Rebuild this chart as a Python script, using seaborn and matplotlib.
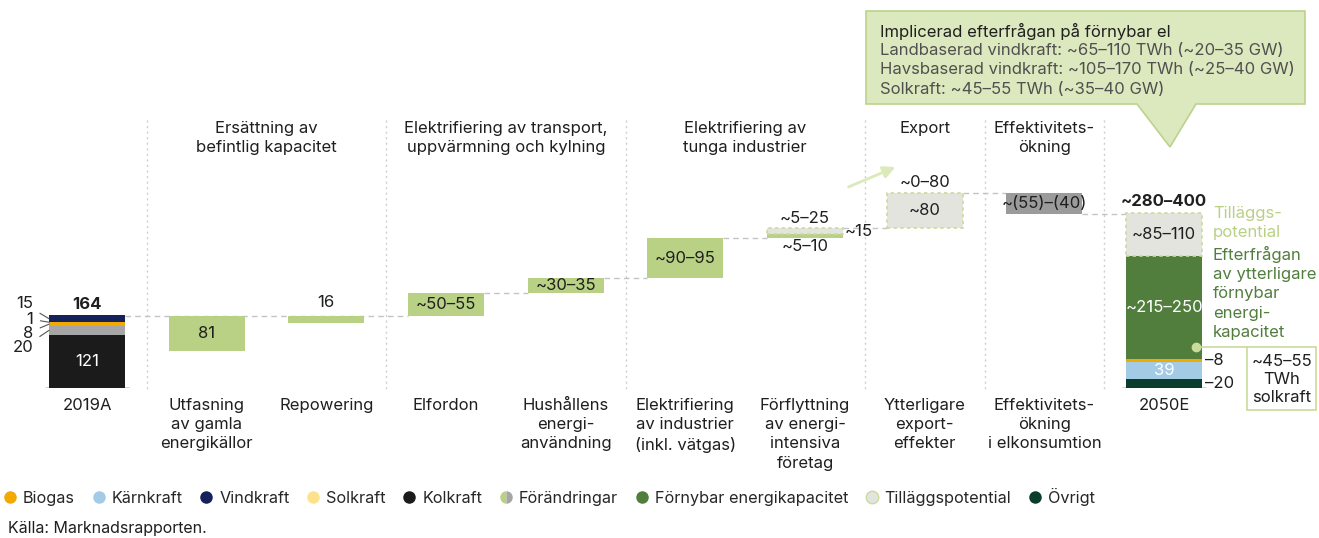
import matplotlib.pyplot as plt
import seaborn as sns
from matplotlib.lines import Line2D
from matplotlib.patches import Polygon, Rectangle
from matplotlib.transforms import Affine2D

# ==========================================
# Data (TWh) – intervall ritas med mittpunkten
# ==========================================
kategorier = ["2019A", "Utfasning\nav gamla\nenergikällor", "Repowering", "Elfordon",
              "Hushållens\nenergi-\nanvändning", "Elektrifiering\nav industrier\n(inkl. vätgas)",
              "Förflyttning\nav energi-\nintensiva\nföretag", "Ytterligare\nexport-\neffekter",
              "Effektivitets-\nökning\ni elkonsumtion", "2050E"]

grupp_namn = ["Ersättning av\nbefintlig kapacitet",
              "Elektrifiering av transport,\nuppvärmning och kylning",
              "Elektrifiering av\ntunga industrier", "Export", "Effektivitets-\nökning"]
grupp_granser = [0.5, 2.5, 4.5, 6.5, 7.5, 8.5]

# 2019A, nerifrån och upp
mix_2019_namn = ["Kolkraft", "Grå", "Biogas", "Solkraft", "Vindkraft"]
mix_2019 = [121, 20, 8, 1, 15]
mix_2019_text = ["121", "20", "8", "1", "15"]
total_2019 = 164

# förändringar
steg = [-81, -16, 52.5, 32.5, 92.5, 7.5]
steg_text = ["81", "16", "~50–55", "~30–35", "~90–95", "~5–10"]
ersattning = [True, True, False, False, False, False]   # nivån flyttas inte

flytt_potential = 15
export = 80
effektivitet = -47.5

# 2050E, nerifrån och upp
mix_2050_namn = ["Övrigt", "Kärnkraft", "Biogas", "Förnybar energikapacitet", "Tilläggspotential"]
mix_2050 = [20, 39, 8, 232.5, 97.5]

farg = {"Kolkraft": "#1b1b1b", "Grå": "#a6a6a6", "Biogas": "#f2a900", "Solkraft": "#fde28e",
        "Vindkraft": "#15215b", "Kärnkraft": "#a3cbe5", "Övrigt": "#0b3d2e",
        "Förnybar energikapacitet": "#517d3d", "Tilläggspotential": "#e4e4df",
        "Förändringar": "#b9d184", "Effektivitet": "#9b9b9b"}
LJUSGRON = "#c9dc9c"
TEXT = "#1f1f1f"

# ==========================================
# Figur
# ==========================================
sns.set_theme(style="white")
plt.rcParams['font.family'] = ['Inter', 'DejaVu Sans']
plt.rcParams['font.size'] = 12

fig = plt.figure(figsize=(13.19, 5.38), dpi=100)
PX_PER_TWH = 0.44
ax = fig.add_axes([0, 150 / 538, 1, 388 / 538])
PIX = Affine2D().scale(0.01, -0.01).translate(0, 5.38) + fig.dpi_scale_trans  # pixel (uppifrån)
W = 0.635
LS = 1.35


def yv(p):
    return (388 - p) / PX_PER_TWH


def staple(x, y, bottom, **kw):
    kw.setdefault("linewidth", 0)
    sns.barplot(x=x, y=y, order=kategorier, bottom=bottom, width=W, errorbar=None,
                saturation=1, ax=ax, zorder=3, **kw)


streckad = dict(color=farg["Tilläggspotential"], edgecolor=LJUSGRON, linewidth=1.2,
                linestyle=(0, (2, 2)))

# 2019A
botten = 0
for namn, v in zip(mix_2019_namn, mix_2019):
    staple([kategorier[0]], [v], [botten], color=farg[namn])
    botten += v

# vattenfall
niva = total_2019
bott, hojd, kopplingar = [], [], [(0, 3, total_2019)]
for i, (v, ers) in enumerate(zip(steg, ersattning)):
    if ers:
        bott.append(niva - abs(v))
        hojd.append(abs(v))
    else:
        bott.append(niva)
        hojd.append(v)
        niva += v
        if i + 2 < 7:
            kopplingar.append((i + 1, i + 2, niva))
staple(kategorier[1:7], hojd, bott, color=farg["Förändringar"])

pot_botten = [niva, niva + flytt_potential]
staple([kategorier[6], kategorier[7]], [flytt_potential, export], pot_botten, **streckad)
topp_export = pot_botten[1] + export
kopplingar.append((6, 7, pot_botten[1]))
kopplingar.append((7, 8, topp_export))
eff_botten = topp_export + effektivitet
staple([kategorier[8]], [-effektivitet], [eff_botten], color=farg["Effektivitet"])
kopplingar.append((8, 9, eff_botten))

botten = 0
mitt_2050 = []
for namn, v in zip(mix_2050_namn, mix_2050):
    if namn == "Tilläggspotential":
        staple([kategorier[9]], [v], [botten], **streckad)
    else:
        staple([kategorier[9]], [v], [botten], color=farg[namn])
    mitt_2050.append(botten + v / 2)
    botten += v
total_2050 = botten

ax.set_xlim(-87 / 119.67, (1319 - 87) / 119.67)
ax.set_ylim(0, 388 / PX_PER_TWH)
ax.axis('off')

# streckade kopplingslinjer
for a, b, y in kopplingar:
    ax.plot([a + W / 2, b - W / 2], [y, y], color="#c4c4c4", lw=1, dashes=(4, 3), zorder=1)
# baslinjer
for i in (0, 9):
    ax.plot([i - W / 2 - 0.03, i + W / 2 + 0.03], [0, 0], color="#222222", lw=1, zorder=4)
# avdelare
for g in grupp_granser:
    ax.plot([g, g], [yv(120), yv(392)], color="#cfcfcf", lw=1, dashes=(1.5, 2.5),
            zorder=0, clip_on=False)

# rubriker och kategorinamn
for namn, (a, b) in zip(grupp_namn, zip(grupp_granser[:-1], grupp_granser[1:])):
    ax.text((a + b) / 2, yv(121), namn, ha='center', va='top', color=TEXT, linespacing=LS)
for i, k in enumerate(kategorier):
    ax.text(i, yv(398), k, ha='center', va='top', color=TEXT, linespacing=LS,
            clip_on=False)

# etiketter 2019A
ax.annotate(str(total_2019), (0, total_2019), xytext=(0, 3), textcoords='offset points',
            ha='center', va='bottom', fontweight='bold', color=TEXT)
ax.text(0, mix_2019[0] / 2, mix_2019_text[0], ha='center', va='center', color='white',
        zorder=5)
mitt_2019 = [sum(mix_2019[:i]) + v / 2 for i, v in enumerate(mix_2019)]
for txt, m, p in zip(mix_2019_text[1:][::-1], mitt_2019[1:][::-1], [304, 319, 333, 348]):
    ax.annotate(txt, (-W / 2, m), xytext=(33, p), textcoords=PIX, ha='right', va='center',
                color=TEXT, arrowprops=dict(arrowstyle='-', color='#555555', lw=0.8,
                                            shrinkA=3, shrinkB=0))

# etiketter förändringar
for i, (b, h, t) in enumerate(zip(bott, hojd, steg_text)):
    x = i + 1
    if t == "16":
        ax.annotate(t, (x, b + h), xytext=(0, 4), textcoords='offset points',
                    ha='center', va='bottom', color=TEXT)
    elif t == "~5–10":
        ax.annotate(t, (x, b), xytext=(0, -1), textcoords='offset points',
                    ha='center', va='top', color=TEXT)
    else:
        ax.text(x, b + h / 2, t, ha='center', va='center', color=TEXT, zorder=5)
ax.annotate("~5–25", (6, pot_botten[0] + flytt_potential), xytext=(0, 1),
            textcoords='offset points', ha='center', va='bottom', color=TEXT)
ax.annotate(f"~{flytt_potential}", (6 + W / 2, pot_botten[0] + flytt_potential / 2),
            xytext=(1, 0), textcoords='offset points', ha='left', va='center', color=TEXT)
ax.text(7, pot_botten[1] + export / 2, f"~{export}", ha='center', va='center',
        color=TEXT, zorder=5)
ax.annotate(f"~0–{export}", (7, topp_export), xytext=(0, 2), textcoords='offset points',
            ha='center', va='bottom', color=TEXT)
ax.text(8, eff_botten - effektivitet / 2, "~(55)–(40)", ha='center', va='center',
        color=TEXT, zorder=5)

# etiketter 2050E
ax.annotate("~280–400", (9, total_2050), xytext=(0, 3), textcoords='offset points',
            ha='center', va='bottom', fontweight='bold', color=TEXT)
ax.text(9, mitt_2050[4], "~85–110", ha='center', va='center', color=TEXT, zorder=5)
ax.text(9, mitt_2050[3], "~215–250", ha='center', va='center', color='white', zorder=5)
ax.text(9, mitt_2050[1], "39", ha='center', va='center', color='white', zorder=5)
for idx, t in ((2, "–8"), (0, "–20")):
    ax.annotate(t, (9 + W / 2, mitt_2050[idx]), xytext=(2, 0), textcoords='offset points',
                ha='left', va='center', color=TEXT)

# sidotexter
ax.text(1213, 206, "Tilläggs-\npotential", transform=PIX, ha='left', va='top',
        color="#b9d184", linespacing=LS)
ax.text(1213, 246, "Efterfrågan\nav ytterligare\nförnybar\nenergi-\nkapacitet", transform=PIX,
        ha='left', va='top', color=farg["Förnybar energikapacitet"], linespacing=LS)
ax.plot([1196, 1247], [347, 347], transform=PIX, color=LJUSGRON, lw=1.2, clip_on=False,
        zorder=6)
ax.plot([1196], [347], transform=PIX, marker='o', ms=6, color=LJUSGRON, clip_on=False,
        zorder=7)
fig.patches.append(Rectangle((1247, 410), 69, -63, transform=PIX, facecolor='white',
                             edgecolor=LJUSGRON, lw=1.2))
fig.text(1282, 379, "~45–55\nTWh\nsolkraft", transform=PIX, ha='center', va='center',
         color=TEXT, linespacing=1.25)

# pil mot export
ax.annotate('', xy=(898, 166), xytext=(846, 188), xycoords=PIX, textcoords=PIX,
            arrowprops=dict(arrowstyle='-|>', color="#dce9ba", lw=2, mutation_scale=18))

# pratbubbla
bubbla = Polygon([(866, 11), (1305, 11), (1305, 104), (1196, 104), (1170, 147),
                  (1137, 104), (866, 104)], closed=True, transform=PIX,
                 facecolor="#dce8bd", edgecolor="#bdd28d", lw=1.2)
fig.patches.append(bubbla)
fig.text(880, 31, "Implicerad efterfrågan på förnybar el", transform=PIX, va='center',
         color=TEXT)
fig.text(880, 70, "Landbaserad vindkraft: ~65–110 TWh (~20–35 GW)\n"
                  "Havsbaserad vindkraft: ~105–170 TWh (~25–40 GW)\n"
                  "Solkraft: ~45–55 TWh (~35–40 GW)",
         transform=PIX, va='center', color="#505050", linespacing=LS)

# legend
leg_namn = ["Biogas", "Kärnkraft", "Vindkraft", "Solkraft", "Kolkraft", "Förändringar",
            "Förnybar energikapacitet", "Tilläggspotential", "Övrigt"]
handles = []
for n in leg_namn:
    if n == "Förändringar":
        h = Line2D([], [], ls='', marker='o', ms=9, fillstyle='left', markeredgewidth=0,
                   markerfacecolor=farg["Förändringar"], markerfacecoloralt="#a6a6a6")
    elif n == "Tilläggspotential":
        h = Line2D([], [], ls='', marker='o', ms=9, markerfacecolor=farg[n],
                   markeredgecolor=LJUSGRON, markeredgewidth=1)
    else:
        h = Line2D([], [], ls='', marker='o', ms=9, color=farg[n], markeredgewidth=0)
    handles.append(h)
fig.legend(handles, leg_namn, loc='center left', bbox_to_anchor=(2, 497), bbox_transform=PIX,
           ncol=len(leg_namn), frameon=False, handlelength=1.0, handletextpad=0.3,
           columnspacing=0.95, borderaxespad=0, borderpad=0, fontsize=11.7)
fig.text(8, 528, "Källa: Marknadsrapporten.", transform=PIX, va='center', color=TEXT,
         fontsize=11.5)

fig.savefig("out.png", dpi=100)
